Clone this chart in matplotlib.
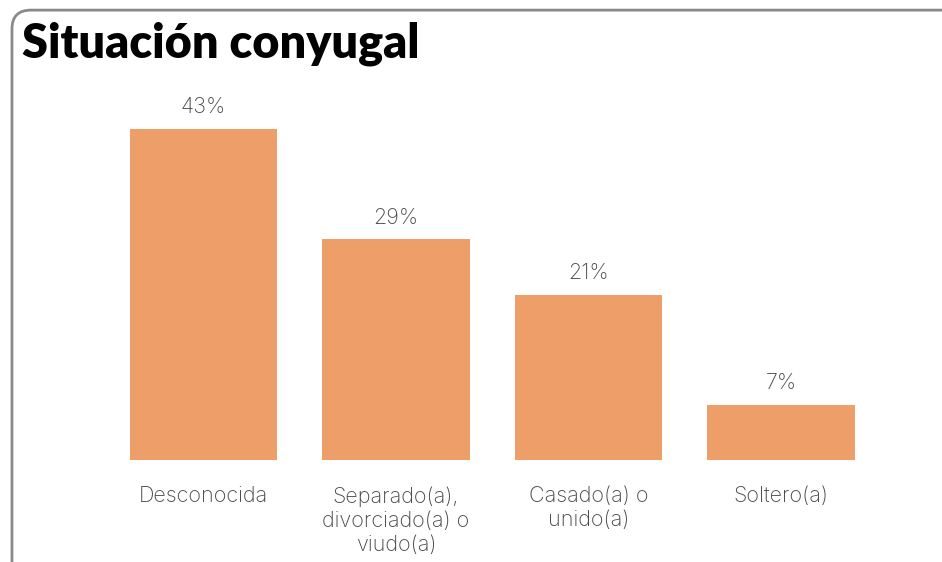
import matplotlib
import matplotlib.pyplot as plt
from matplotlib.patches import FancyBboxPatch

matplotlib.use("Agg")

categorias = ["Desconocida", "Separado(a),\ndivorciado(a) o\nviudo(a)", "Casado(a) o\nunido(a)", "Soltero(a)"]
valores = [42.86, 28.57, 21.43, 7.14]
etiquetas = ["43%", "29%", "21%", "7%"]

COLOR_BARRA = "#EE9E69"
COLOR_TEXTO = "#4a4a4a"
FUENTE = ["Inter", "DejaVu Sans"]

fig = plt.figure(figsize=(9.42, 5.62), dpi=100)

# marco redondeado
marco = FancyBboxPatch((0.0127, -0.05), 1.05, 1.032,
                       boxstyle="round,pad=0,rounding_size=0.02",
                       transform=fig.transFigure, facecolor="none",
                       edgecolor="#8a8a8a", linewidth=2, mutation_aspect=942 / 562)
fig.patches.append(marco)

fig.text(0.023, 0.922, "Situación conyugal", fontsize=33.7, fontweight="heavy",
         family=["Lato", "DejaVu Sans"], color="#000000", va="center", ha="left")

ax = fig.add_axes([0.1139, 0.1815, 0.8174, 0.687])
x = range(len(valores))
ax.bar(x, valores, width=0.765, color=COLOR_BARRA)

for i, (v, t) in enumerate(zip(valores, etiquetas)):
    ax.text(i, v + 1.5, t, ha="center", va="bottom", fontsize=15.5,
            family=FUENTE, fontweight="light", color=COLOR_TEXTO)

for i, c in enumerate(categorias):
    ax.text(i, -3.4, c, ha="center", va="top", fontsize=15.5, linespacing=1.25,
            family=FUENTE, fontweight="light", color=COLOR_TEXTO)

ax.set_xlim(-0.5, 3.5)
ax.set_ylim(0, 50)
ax.axis("off")

fig.savefig("out.png", dpi=100)
